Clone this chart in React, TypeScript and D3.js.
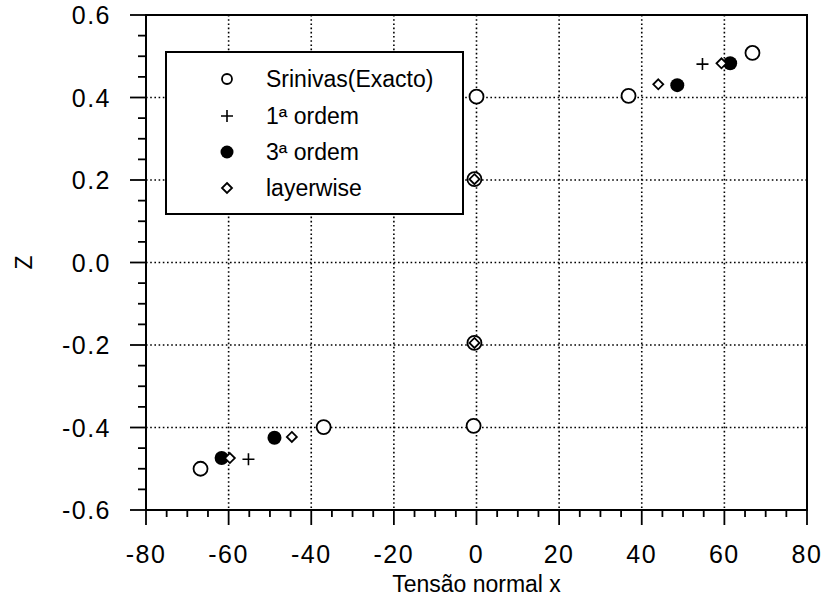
import React from "react";
import * as d3 from "d3";

const xTicks = [-80, -60, -40, -20, 0, 20, 40, 60, 80];
const yTicks = [-0.6, -0.4, -0.2, 0.0, 0.2, 0.4, 0.6];
const xGrid = [-60, -40, -20, 0, 20, 40, 60];
const yGrid = [-0.4, -0.2, 0.0, 0.2, 0.4];

const srinivasX = [66.8, 36.8, 0.0, -0.5, -0.5, -0.7, -37.0, -66.8];
const srinivasZ = [0.508, 0.404, 0.402, 0.202, -0.195, -0.396, -0.399, -0.5];

const ordem1X = [54.7, -55.2];
const ordem1Z = [0.481, -0.477];

const ordem3X = [61.4, 48.6, -61.7, -48.9];
const ordem3Z = [0.483, 0.43, -0.474, -0.425];

const layerX = [59.3, 44.0, -0.5, -0.5, -59.7, -44.7];
const layerZ = [0.483, 0.432, 0.202, -0.195, -0.474, -0.423];

const legendLabels = ["Srinivas(Exacto)", "1ª ordem", "3ª ordem", "layerwise"];

const W = 830;
const H = 600;
const L = 146;
const R = 807;
const T = 15;
const B = 510;

export default function App() {
  const x = d3.scaleLinear().domain([-80, 80]).range([L, R]);
  const y = d3.scaleLinear().domain([-0.6, 0.6]).range([B, T]);
  const xMinor = d3.range(-80, 80.01, 5);
  const yMinor = d3.range(-0.6, 0.6001, 0.05);
  const font = "'Liberation Sans', Arial, Helvetica, sans-serif";

  const diamond = (cx: number, cy: number, s: number) =>
    `M${cx},${cy - s}L${cx + s},${cy}L${cx},${cy + s}L${cx - s},${cy}Z`;
  const plus = (cx: number, cy: number, s: number) =>
    `M${cx - s},${cy}L${cx + s},${cy}M${cx},${cy - s}L${cx},${cy + s}`;

  const lgX = 227;
  const lgRows = [79, 116, 152, 188];

  return (
    <svg width={W} height={H} style={{ position: "absolute", left: 0, top: 0, background: "#fff" }}>
      {/* grid */}
      <g stroke="#000" strokeWidth={1.6} strokeDasharray="1.6,2.6">
        {xGrid.map((v) => (
          <line key={"gx" + v} x1={x(v)} x2={x(v)} y1={T} y2={B} />
        ))}
        {yGrid.map((v) => (
          <line key={"gy" + v} x1={L} x2={R} y1={y(v)} y2={y(v)} />
        ))}
      </g>
      {/* frame */}
      <rect x={L} y={T} width={R - L} height={B - T} fill="none" stroke="#000" strokeWidth={2} />
      {/* ticks */}
      <g stroke="#000" strokeWidth={1.8}>
        {xMinor.map((v, i) => (
          <line key={"xm" + i} x1={x(v)} x2={x(v)} y1={B} y2={B + (i % 4 === 0 ? 15 : 7)} />
        ))}
        {yMinor.map((v, i) => (
          <line key={"ym" + i} x1={L} x2={L - (i % 4 === 0 ? 16 : 8)} y1={y(v)} y2={y(v)} />
        ))}
      </g>
      {/* tick labels */}
      <g fontFamily={font} fontSize={25} fill="#000" letterSpacing={1.5}>
        {xTicks.map((v) => (
          <text key={"xl" + v} x={x(v)} y={563} textAnchor="middle">
            {String(v)}
          </text>
        ))}
        {yTicks.map((v) => (
          <text key={"yl" + v} x={111} y={y(v) + 9} textAnchor="end">
            {v.toFixed(1)}
          </text>
        ))}
      </g>
      {/* axis titles */}
      <text x={x(0)} y={592} textAnchor="middle" fontFamily={font} fontSize={23}>
        Tensão normal x
      </text>
      <text
        transform={`translate(32,${y(0)}) rotate(-90)`}
        textAnchor="middle"
        fontFamily={font}
        fontSize={23}
      >
        Z
      </text>
      {/* legend */}
      <rect x={166} y={52} width={297} height={162} fill="#fff" stroke="#000" strokeWidth={2} />
      <circle cx={lgX} cy={lgRows[0]} r={5} fill="#fff" stroke="#000" strokeWidth={1.8} />
      <path d={plus(lgX, lgRows[1], 6)} stroke="#000" strokeWidth={1.6} fill="none" />
      <circle cx={lgX} cy={lgRows[2]} r={6.5} fill="#000" />
      <path d={diamond(lgX, lgRows[3], 5)} fill="#fff" stroke="#000" strokeWidth={1.8} />
      <g fontFamily={font} fontSize={23} fill="#000">
        {legendLabels.map((t, i) => (
          <text key={t} x={266} y={lgRows[i] + 8}>
            {t}
          </text>
        ))}
      </g>
      {/* data */}
      {srinivasX.map((v, i) => (
        <circle key={"s" + i} cx={x(v)} cy={y(srinivasZ[i])} r={7} fill="#fff" stroke="#000" strokeWidth={1.8} />
      ))}
      {ordem1X.map((v, i) => (
        <path key={"o1" + i} d={plus(x(v), y(ordem1Z[i]), 6)} stroke="#000" strokeWidth={1.6} fill="none" />
      ))}
      {ordem3X.map((v, i) => (
        <circle key={"o3" + i} cx={x(v)} cy={y(ordem3Z[i])} r={7} fill="#000" />
      ))}
      {layerX.map((v, i) => (
        <path key={"lw" + i} d={diamond(x(v), y(layerZ[i]), 5)} fill="#fff" stroke="#000" strokeWidth={1.8} />
      ))}
    </svg>
  );
}
